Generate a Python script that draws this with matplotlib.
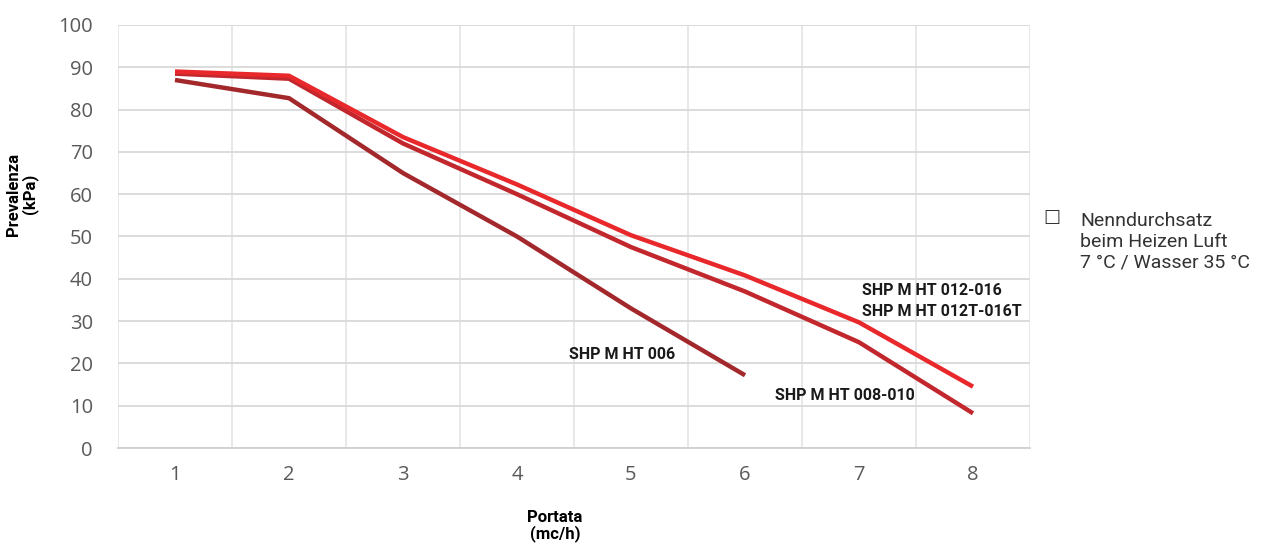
import matplotlib.pyplot as plt
import numpy as np

portata = [1, 2, 3, 4, 5, 6, 7, 8]
ht_006 = [87.0, 82.7, 65.0, 50.0, 33.0, 17.2]
ht_008_010 = [88.5, 87.3, 72.0, 60.0, 47.5, 37.0, 25.0, 8.2]
ht_012_016 = [89.0, 88.0, 73.5, 62.3, 50.3, 40.8, 29.7, 14.5]

plt.rcParams['font.family'] = ['Open Sans', 'DejaVu Sans']

fig = plt.figure(figsize=(12.76, 5.49), dpi=100)
ax = fig.add_axes([118/1276, 101/549, (1030-118)/1276, (448-25)/549])

ax.plot(portata[:6], ht_006, color='#A3282C', lw=3.2, solid_capstyle='butt', zorder=3)
ax.plot(portata, ht_008_010, color='#C1272D', lw=3.2, solid_capstyle='butt', zorder=4)
ax.plot(portata, ht_012_016, color='#E8282B', lw=3.2, solid_capstyle='butt', zorder=5)

ax.set_xlim(0.5, 8.5)
ax.set_ylim(0, 100)
ax.set_xticks(portata)
ax.set_xticks(np.arange(0.5, 8.6, 0.5), minor=True)
ax.set_yticks(range(0, 101, 10))
ax.grid(True, which='minor', axis='x', color='#E6E6E6', lw=1.3)
ax.grid(True, which='major', axis='y', color='#D9D9D9', lw=1.3)
ax.tick_params(which='both', length=0)
ax.tick_params(axis='both', labelsize=14.5, labelcolor='#595959')
ax.tick_params(axis='x', pad=12)
ax.tick_params(axis='y', pad=18)
for s in ['top', 'right', 'left']:
    ax.spines[s].set_visible(False)
ax.spines['bottom'].set_color('#D0D0D0')
ax.spines['bottom'].set_linewidth(1.3)

lab = dict(family=['Roboto', 'DejaVu Sans'], fontweight='bold', fontsize=11.5, color='#1a1a1a')
ax.text(5.39, 22.2, 'SHP M HT 006', ha='right', va='center', **lab)
ax.text(6.26, 12.5, 'SHP M HT 008-010', ha='left', va='center', **lab)
ax.text(7.03, 37.3, 'SHP M HT 012-016', ha='left', va='center', **lab)
ax.text(7.03, 32.3, 'SHP M HT 012T-016T', ha='left', va='center', **lab)

fig.text(555/1276, 1 - 526/549, 'Portata\n(mc/h)', ha='center', va='center',
         fontsize=12, fontweight='bold', family=['Roboto', 'DejaVu Sans'], linespacing=1.05)
fig.text(22/1276, 1 - 194/549, 'Prevalenza\n(kPa)', ha='center', va='center', rotation=90,
         fontsize=12, fontweight='bold', family=['Roboto', 'DejaVu Sans'], linespacing=1.05)

fig.text(1052/1276, 1 - 217/549, '\u25a1', ha='center', va='center', fontsize=13,
         family='DejaVu Sans', color='#333333')
fig.text(1080/1276, 1 - 242/549, 'Nenndurchsatz\nbeim Heizen Luft\n7 °C / Wasser 35 °C',
         ha='left', va='center', fontsize=14, color='#333333', linespacing=1.2,
         family=['Roboto', 'DejaVu Sans'])

fig.savefig('out.png', dpi=100)
